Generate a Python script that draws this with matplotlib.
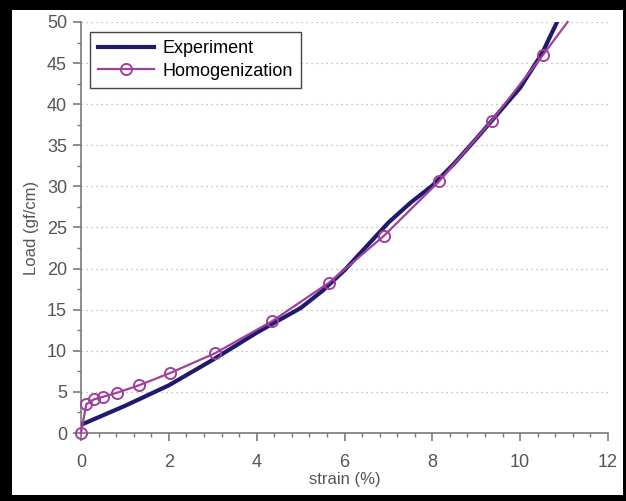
import matplotlib.pyplot as plt
from matplotlib.patches import Rectangle
from matplotlib.ticker import MultipleLocator

plt.rcParams['font.family'] = ['Liberation Sans', 'DejaVu Sans']

# Experiment curve (strain %, load gf/cm)
exp_strain = [0.0, 1.0, 2.0, 3.0, 4.0, 4.5, 5.0, 5.5, 6.0, 6.5, 7.0, 7.5, 8.0,
              8.5, 9.0, 9.5, 10.0, 10.5, 10.84]
exp_load = [1.0, 3.3, 5.8, 8.9, 12.2, 13.7, 15.2, 17.3, 19.8, 22.7, 25.6, 28.0,
            30.1, 32.8, 35.8, 38.9, 42.0, 46.2, 50.0]

# Homogenization curve (markers on every point except the last)
hom_strain = [0.0, 0.12, 0.3, 0.5, 0.82, 1.32, 2.03, 3.05, 4.35, 5.65, 6.9, 8.15, 9.35, 10.52, 11.08]
hom_load = [0.0, 3.5, 4.1, 4.4, 4.9, 5.8, 7.3, 9.7, 13.6, 18.3, 24.0, 30.6, 38.0, 46.0, 50.0]

grey = '#7a7a7a'
txt = '#555555'

fig = plt.figure(figsize=(6.26, 5.01), dpi=100, facecolor='black')
fig.patches.append(Rectangle((12/626, 6/501), 611/626, 485/501,
                             transform=fig.transFigure, facecolor='white',
                             edgecolor='none', zorder=-10))
ax = fig.add_axes([81/626, 1 - 433/501, 527/626, 411/501])

ax.plot(exp_strain, exp_load, color='#1f1a6e', lw=3, label='Experiment', zorder=3)
ax.plot(hom_strain, hom_load, color='#a0409a', lw=1.6, marker='o', ms=8,
        mfc='none', mew=1.4, markevery=list(range(len(hom_strain) - 1)),
        label='Homogenization', zorder=4, clip_on=False)

ax.set_xlim(0, 12)
ax.set_ylim(0, 50)
ax.xaxis.set_major_locator(MultipleLocator(2))
ax.xaxis.set_minor_locator(MultipleLocator(0.4))
ax.yaxis.set_major_locator(MultipleLocator(5))
ax.yaxis.set_minor_locator(MultipleLocator(2.5))

ax.grid(axis='y', which='major', color='#b0b0b0', ls=(0, (1, 3)), lw=0.9)
ax.set_axisbelow(True)

for s in ['top', 'right']:
    ax.spines[s].set_visible(False)
for s in ['left', 'bottom']:
    ax.spines[s].set_color(grey)
    ax.spines[s].set_linewidth(1.2)

ax.tick_params(which='major', direction='out', length=6, width=1.2, color=grey,
               labelcolor=txt, labelsize=13)
ax.tick_params(axis='x', which='major', pad=9)
ax.tick_params(axis='y', which='major', pad=4)
ax.tick_params(which='minor', direction='out', length=3, width=1, color=grey)

ax.set_xlabel('strain (%)', color=txt, fontsize=12, labelpad=1)
ax.set_ylabel('Load (gf/cm)', color=txt, fontsize=12, labelpad=6)

leg = ax.legend(loc='upper left', bbox_to_anchor=(0.017, 0.975), fontsize=13,
                fancybox=False, framealpha=1, edgecolor='#444444',
                handlelength=3.1, handletextpad=0.45, borderpad=0.45,
                labelspacing=0.3, borderaxespad=0)
leg.get_frame().set_linewidth(1.0)

fig.savefig('out.png', dpi=100, facecolor=fig.get_facecolor())
